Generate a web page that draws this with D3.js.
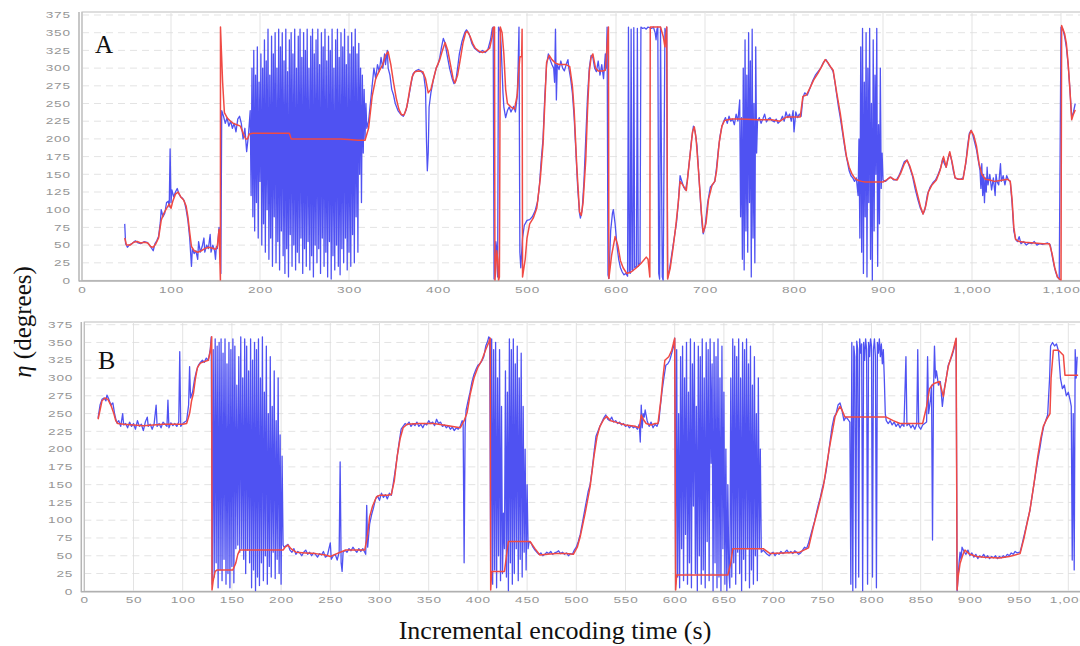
<!DOCTYPE html>
<html>
<head>
<meta charset="utf-8">
<script src="https://cdn.jsdelivr.net/npm/d3@7"></script>
<style>
  body { margin: 0; background: #fff; }
  svg { display: block; }
</style>
</head>
<body>
<div id="chart"></div>
<script>
// Tick values
const yTicks = [0, 25, 50, 75, 100, 125, 150, 175, 200, 225, 250, 275, 300, 325, 350, 375];
const xTicksA = [0, 100, 200, 300, 400, 500, 600, 700, 800, 900, 1000, 1100];
const xTicksB = [0, 50, 100, 150, 200, 250, 300, 350, 400, 450, 500, 550, 600, 650, 700, 750, 800, 850, 900, 950, 1000];

// Panel A: raw (blue) and filtered (red) orientation, [time, degrees]
const rawA = [
  [48,80],[49,52],[51,47],[53,50],[56,52],[60,56],[63,53],[66,52],[70,55],[73,54],[76,50],[78,46],[80,42],[82,52],[84,56],[86,62],[88,82],[89,100],[91,90],[93,95],[95,110],[97,112],[98,104],[99,186],[100,110],[101,128],[103,118],[105,125],[107,130],[109,122],[111,118],[113,116],[115,112],[117,100],[119,85],[121,60],[122,40],[123,20],[124,45],[126,38],[128,42],[130,30],[131,55],[133,40],[135,48],[137,60],[138,40],[140,50],[142,45],[144,65],[145,40],[147,50],[149,42],[150,30],[151,48],[152,45],[154,75],[155,60],[156,10],[157,240],[159,232],[161,222],[163,230],[165,218],[167,225],[169,215],[171,222],[173,210],[175,228],[177,232],[179,222],[181,200],[183,215],[185,182],[187,205],[189,240],
  [190,120],[191,300],[192,90],[193,325],[194,70],[195,290],[196,110],[197,330],[198,60],[199,280],[200,140],[201,320],[202,50],[203,300],[204,80],[205,340],[206,40],[207,310],[208,100],[209,355],[210,30],[211,290],[212,60],[213,345],[214,20],[215,320],[216,90],[217,350],[218,25],[219,300],[220,55],[221,355],[222,15],[223,330],[224,70],[225,350],[226,35],[227,310],[228,10],[229,355],[230,45],[231,295],[232,5],[233,340],[234,65],[235,350],[236,20],[237,320],[238,50],[239,355],[240,15],[241,300],[242,40],[243,345],[244,25],[245,355],[246,60],[247,315],[248,10],[249,350],[250,45],[251,325],[252,20],[253,355],[254,55],[255,300],[256,15],[257,345],[258,35],[259,355],[260,5],[261,320],[262,50],[263,340],[264,25],[265,355],[266,45],[267,305],[268,10],[269,350],[270,60],[271,330],[272,20],[273,355],[274,40],[275,310],[276,5],[277,345],[278,55],[279,325],[280,2],[281,355],[282,35],[283,300],[284,15],[285,340],[286,50],[287,355],[288,20],[289,315],[290,8],[291,350],[292,45],[293,330],[294,25],[295,355],[296,60],[297,305],[298,15],[299,345],[300,40],[301,320],[302,20],[303,350],[304,65],[305,330],[306,25],[307,355],[308,90],[309,320],[310,40],[311,335],[312,150],[313,300],[314,110],[315,290],[316,180],[317,270],[318,200],[319,250],[320,215],
  [322,225],[324,250],[326,275],[328,300],[330,285],[332,305],[334,295],[336,315],[338,300],[340,320],[341,305],[343,325],[344,300],[346,290],[347,280],[348,270],[350,262],[352,250],[355,240],[358,235],[361,232],[364,240],[367,258],[370,280],[372,292],[375,296],[378,298],[381,296],[384,290],[386,270],[387,200],[388,155],[389,180],[390,245],[392,265],[395,285],[398,300],[400,305],[402,315],[404,330],[406,342],[408,335],[410,320],[413,300],[416,285],[418,278],[420,282],[422,300],[424,320],[427,338],[430,350],[432,354],[435,348],[438,335],[441,328],[444,325],[447,322],[450,325],[453,322],[456,326],[459,340],[461,356],[462,358],[463,2],[465,55],[466,45],[467,5],[468,358],[470,352],[471,330],[473,265],[474,245],[476,230],[478,240],[480,245],[482,238],[485,246],[487,238],[489,260],[490,300],[491,358],[492,40],[493,18],[495,60],[497,78],[500,85],[503,86],[506,90],[509,98],[512,112],[514,135],[516,170],[518,200],[520,260],[522,305],[524,320],[526,312],[528,305],[530,300],[531,280],[532,355],[533,255],[534,305],[536,298],[538,310],[540,300],[542,296],[544,305],[546,312],[547,300],[549,285],[551,265],[553,230],[555,180],[557,130],[559,95],[560,88],[562,100],[564,140],[566,200],[568,260],[570,300],[572,318],[574,315],[576,300],[578,295],[580,310],[582,290],[584,305],[586,285],[588,320],[589,300],[590,358],[591,8],[592,3],[594,70],[596,95],[597,100],[599,80],[601,50],[603,30],[605,18],[607,12],[609,8],[611,10],[613,6],[614,358],[615,12],[616,10],[617,355],[618,15],[619,14],[620,357],[621,18],[623,20],[624,356],[625,20],[627,25],[628,358],[630,356],[632,357],[634,355],[636,358],[638,357],[640,356],[642,358],[644,350],[645,340],[646,355],[647,358],[648,10],[649,2],[650,358],[652,5],[653,0],[655,356],[656,345],[657,358],[658,4],
  [660,15],[663,40],[666,65],[668,82],[670,110],[672,148],[674,140],[676,132],[678,128],[680,140],[683,175],[685,200],[687,218],[689,210],[691,190],[693,150],[695,110],[697,75],[698,66],[700,75],[703,110],[706,132],[709,136],[711,140],[713,160],[715,185],[717,205],[719,218],[721,225],[723,230],[725,222],[727,232],[729,225],[731,228],[733,220],[735,235],[737,225],[739,255],[740,90],[741,230],[742,30],[743,300],[744,15],[745,340],[746,70],[747,290],[748,40],[749,350],[750,110],[751,310],[752,5],[753,355],[754,60],[755,250],[756,25],[757,330],[758,180],[759,225],[761,230],[763,222],[765,228],[767,235],[769,224],[771,228],[773,230],[775,226],[778,224],[780,228],[782,222],[785,226],[787,232],[789,225],[791,238],[793,230],[795,235],[797,225],[799,240],[800,210],[802,238],[804,230],[806,235],[808,232],[810,258],[812,265],[815,262],[818,272],[821,282],[824,290],[827,295],[830,300],[833,308],[836,312],[839,305],[842,300],[844,295],[846,280],[848,262],[850,245],[852,230],[855,205],[858,180],[860,168],[862,155],[864,148],[866,145],[868,140],[870,145],[872,120],[873,200],[874,60],[875,330],[876,40],[877,356],[878,10],[879,280],[880,90],[881,350],[882,5],[883,300],[884,110],[885,356],[886,30],[887,250],[888,0],[889,340],[890,70],[891,290],[892,150],[893,356],[894,20],[895,220],[896,80],[897,300],[898,130],[899,180],[900,142],[903,140],[906,144],[909,146],[912,142],[915,142],[918,148],[921,158],[924,168],[927,170],[930,160],[933,148],[936,130],[939,115],[942,102],[945,94],[947,100],[950,122],[953,132],[956,138],[959,142],[962,150],[965,160],[967,172],[969,165],[971,160],[973,172],[975,180],[977,170],[979,155],[981,145],[984,143],[987,143],[990,145],[993,165],[995,190],[997,208],[999,212],[1001,205],[1003,195],[1005,185],[1007,170],[1009,155],[1010,130],[1011,165],[1012,120],[1013,150],[1014,110],[1015,145],[1016,125],[1017,160],[1018,135],[1020,150],[1022,128],[1024,145],[1026,120],[1027,150],[1028,140],[1030,135],[1032,165],[1033,140],[1035,148],[1037,135],[1039,148],[1041,142],[1043,140],[1045,110],[1047,70],[1049,58],[1051,55],[1053,62],[1055,52],[1058,55],[1061,50],[1064,53],[1067,52],[1070,55],[1073,50],[1076,52],[1079,51],[1082,52],[1085,53],[1088,50],[1090,35],[1092,22],[1094,12],[1096,5],[1098,2],[1100,358],[1102,355],[1104,345],[1106,330],[1108,305],[1110,270],[1112,230],[1114,238],[1116,250]
];

const filtA = [
  [48,60],[50,50],[54,50],[58,54],[62,55],[66,53],[70,54],[74,53],[77,48],[80,47],[83,52],[86,60],[89,85],[92,95],[95,102],[98,108],[100,102],[102,112],[105,122],[108,125],[111,118],[114,114],[117,105],[119,90],[121,68],[123,48],[126,42],[130,40],[134,42],[138,45],[142,47],[146,46],[150,44],[152,48],[154,72],[155.5,0],[155.6,358],[158,280],[160,237],[163,230],[166,226],[170,222],[174,220],[178,218],[182,205],[184,200],[186,200],[188,207],[192,208],[200,208],[210,208],[220,208],[233,208],[235,200],[250,200],[270,200],[290,200],[300,199],[310,198],[318,198],
  [322,215],[326,260],[330,285],[334,296],[338,305],[341,318],[344,323],[347,305],[350,280],[353,258],[356,242],[359,234],[362,234],[365,245],[368,268],[371,288],[374,295],[378,296],[383,295],[386,285],[389,265],[392,270],[395,285],[398,300],[402,312],[405,325],[408,336],[411,325],[414,305],[417,285],[419,279],[422,290],[425,312],[428,335],[431,350],[433,352],[436,345],[439,335],[442,328],[446,324],[450,322],[454,324],[458,328],[461,345],[462,357],[463.5,358],[464,0],[465,20],[466,42],[467,30],[468,0],[469,5],[470,358],[472,350],[474,320],[476,270],[478,250],[482,245],[486,242],[489,262],[491,300],[492,316],[494,316],[494.5,355],[495,5],[498,30],[500,60],[503,80],[507,88],[511,102],[515,145],[518,192],[520,250],[522,308],[525,318],[528,312],[532,307],[536,305],[540,305],[544,305],[548,302],[551,275],[553,240],[556,160],[559,97],[561,92],[563,110],[566,170],[568,240],[570,295],[572,315],[574,320],[577,300],[580,296],[585,296],[588,297],[590,330],[591,352],[591.5,358],[592,3],[595,35],[599,62],[602,50],[605,28],[608,18],[612,10],[617,12],[623,18],[628,24],[634,33],[636,30],[638,5],[638.5,358],[640,358],[645,358],[650,358],[653,345],[655,330],[656,345],[657,358],[658,2],
  [661,18],[664,45],[667,75],[670,110],[672,140],[675,135],[679,127],[683,175],[686,210],[688,217],[690,200],[693,150],[696,95],[698,68],[701,80],[704,115],[708,135],[711,140],[713,155],[716,195],[719,218],[722,226],[726,227],[730,228],[740,228],[760,227],[775,227],[784,225],[792,231],[800,231],[807,231],[810,260],[814,262],[818,272],[822,283],[827,293],[831,302],[835,312],[838,308],[841,302],[844,297],[848,265],[852,236],[856,200],[859,175],[862,160],[865,151],[868,145],[871,142],[876,140],[880,139],[890,139],[900,139],[904,142],[908,146],[912,143],[916,142],[920,152],[924,165],[927,170],[930,162],[934,146],[938,125],[942,105],[945,94],[948,105],[951,125],[955,135],[960,142],[964,155],[968,175],[971,160],[973,172],[975,182],[978,165],[981,145],[985,143],[990,143],[994,175],[997,205],[999,212],[1002,205],[1005,190],[1008,165],[1011,150],[1015,143],[1020,142],[1025,140],[1030,141],[1035,142],[1040,143],[1043,140],[1045,115],[1047,75],[1049,58],[1053,55],[1060,54],[1070,53],[1080,52],[1087,52],[1090,38],[1093,18],[1096,5],[1099,1],[1100,0],[1100.7,360],[1104,349],[1106,335],[1108,307],[1110,270],[1112,227],[1114,235],[1116,241]
];

// Panel B
const rawB = [
  [14,244],[16,262],[18,270],[20,272],[22,268],[23,276],[25,270],[27,262],[29,265],[31,248],[33,237],[35,240],[37,232],[39,250],[40,234],[42,236],[44,230],[46,238],[48,232],[50,236],[52,228],[54,240],[56,232],[58,235],[60,226],[62,238],[64,245],[65,232],[67,235],[69,228],[71,236],[73,262],[74,232],[76,236],[78,230],[80,238],[82,235],[84,232],[85,269],[86,230],[88,237],[90,233],[92,236],[94,232],[96,238],[97,337],[98,232],[100,236],[102,238],[104,240],[106,262],[107,316],[108,272],[110,280],[112,298],[114,310],[116,318],[118,322],[120,325],[122,322],[124,328],[126,325],[128,340],[129,358],
  [130,10],[131,340],[132,20],[133,355],[134,40],[135,345],[136,5],[137,350],[138,30],[139,355],[140,15],[141,335],[142,45],[143,355],[144,10],[145,320],[146,25],[147,350],[148,5],[149,340],[150,35],[151,355],[152,12],[153,345],[154,60],[155,290],[156,65],[157,330],[158,55],[159,358],[160,60],[161,300],[162,45],[163,355],[164,25],[165,345],[166,58],[167,310],[168,40],[169,355],[170,5],[171,325],[172,30],[173,350],[174,0],[175,340],[176,20],[177,355],[178,8],[179,300],[180,40],[181,358],[182,15],[183,280],[184,50],[185,345],[186,10],[187,250],[188,35],[189,330],[190,20],[191,260],[192,55],[193,310],[194,18],[195,240],[196,45],[197,300],[198,25],[199,220],[200,10],[201,190],[202,65],[203,62],
  [205,64],[207,66],[209,58],[211,55],[213,60],[215,52],[217,56],[219,54],[221,50],[223,55],[225,58],[227,52],[229,55],[231,50],[233,54],[235,52],[237,48],[239,53],[241,51],[243,56],[245,48],[247,50],[249,62],[250,68],[251,45],[253,50],[255,52],[257,44],[259,55],[260,182],[261,40],[262,28],[263,55],[265,58],[267,55],[269,60],[271,57],[273,62],[275,58],[277,55],[279,60],[281,56],[283,60],[285,55],[286,52],[287,121],[288,62],[290,95],[292,108],[294,118],[296,130],[298,134],[300,128],[302,138],[304,132],[306,136],[308,130],[310,138],[312,135],[314,152],[316,170],[318,190],[320,210],[322,228],[324,232],[326,236],[328,234],[330,238],[332,232],[334,236],[336,233],[338,238],[340,232],[342,235],[344,230],[346,236],[348,234],[350,240],[352,236],[354,238],[356,233],[358,242],[360,236],[362,238],[364,232],[366,234],[368,230],[370,233],[372,228],[374,231],[376,226],[378,230],[380,228],[382,232],[384,240],[385,235],[386,40],[387,230],[388,255],[390,268],[392,280],[394,295],[396,305],[398,312],[400,318],[402,320],[404,324],[406,330],[408,345],[410,352],[411,358],[412,356],
  [413,20],[414,355],[415,10],[416,340],[417,30],[418,350],[419,5],[420,300],[421,50],[422,340],[423,15],[424,260],[425,25],[426,110],[427,60],[428,310],[429,20],[430,280],[431,0],[432,355],[433,40],[434,340],[435,10],[436,355],[437,25],[438,320],[439,60],[440,345],[441,15],[442,300],[443,45],[444,335],[445,20],[446,260],[447,55],[448,200],[449,30],[450,150],[451,60],[452,70],
  [454,68],[456,62],[458,58],[460,55],[462,52],[464,54],[466,50],[468,52],[470,55],[472,53],[474,56],[476,52],[478,54],[480,55],[482,57],[484,53],[486,55],[488,52],[490,54],[492,50],[494,53],[496,52],[498,58],[500,62],[502,70],[504,80],[506,95],[508,110],[510,125],[512,140],[514,150],[516,170],[518,195],[520,218],[522,225],[524,232],[526,238],[528,244],[530,248],[532,242],[534,240],[536,245],[538,238],[540,240],[542,236],[544,238],[546,234],[548,236],[550,232],[552,234],[554,230],[556,233],[558,230],[560,232],[562,228],[564,235],[565,210],[566,262],[567,230],[568,250],[569,245],[570,255],[572,240],[574,232],[576,238],[578,230],[580,235],[582,232],[584,240],[585,255],[587,280],[589,300],[591,318],[593,320],[595,325],[597,335],[599,345],[600,356],[601,10],
  [602,340],[603,20],[604,250],[605,5],[606,330],[607,60],[608,345],[609,15],[610,300],[611,80],[612,350],[613,10],[614,280],[615,40],[616,355],[617,5],[618,320],[619,120],[620,350],[621,25],[622,260],[623,0],[624,345],[625,50],[626,330],[627,10],[628,355],[629,30],[630,300],[631,5],[632,350],[633,70],[634,340],[635,15],[636,355],[637,180],[638,320],[639,0],[640,350],[641,40],[642,330],[643,5],[644,355],[645,20],[646,300],[647,0],[648,345],[649,60],[650,280],[651,10],[652,200],[653,0],[654,150],[655,30],[656,5],[657,300],[658,20],[659,355],[660,40],[661,345],[662,10],[663,330],[664,55],[665,355],[666,25],[667,300],[668,0],[669,350],[670,45],[671,340],[672,15],[673,355],[674,60],[675,320],[676,5],[677,345],[678,30],[679,290],[680,10],[681,330],[682,50],[683,250],[684,15],[685,300],[686,60],[687,200],[688,55],
  [690,58],[692,55],[694,52],[696,50],[698,53],[700,55],[702,50],[704,54],[706,52],[708,56],[710,53],[712,55],[714,58],[716,54],[718,56],[720,53],[722,57],[724,55],[726,52],[728,54],[730,58],[732,62],[734,60],[736,68],[738,78],[740,88],[742,98],[744,110],[746,122],[748,132],[750,145],[752,155],[754,170],[756,190],[758,212],[760,232],[762,245],[764,250],[766,262],[768,265],[770,255],[772,240],[774,245],[776,242],[778,238],
  [779,10],[780,350],[781,0],[782,345],[783,330],[784,5],[785,352],[786,340],[787,20],[788,355],[789,335],[790,348],[791,0],[792,350],[793,325],[794,355],[795,340],[796,10],[797,350],[798,330],[799,355],[800,345],[801,20],[802,340],[803,355],[804,330],[805,5],[806,350],[807,335],[808,355],[809,330],[810,348],[811,320],[812,340],[813,300],[814,250],[815,240],
  [817,236],[819,240],[821,234],[823,238],[825,232],[827,236],[829,230],[831,235],[833,232],[835,330],[836,233],[838,236],[840,230],[842,234],[844,228],[846,235],[847,340],[848,232],[850,228],[852,234],[854,236],[856,238],[857,330],[858,250],[860,270],[861,290],[862,72],[863,280],[864,345],[865,300],[866,310],[868,290],[870,295],[872,260],[874,285],[876,300],[878,318],[880,325],[882,332],[884,342],[886,355],[887,0],
  [888,20],[889,40],[890,55],[891,45],[892,62],[894,56],[896,52],[898,58],[900,50],[902,54],[904,48],[906,52],[908,46],[910,50],[912,48],[914,52],[916,47],[918,50],[920,46],[922,49],[924,47],[926,50],[928,46],[930,49],[932,47],[934,50],[936,48],[938,52],[940,50],[942,54],[944,52],[946,56],[948,54],[951,55],[953,66],[955,78],[957,90],[959,102],[961,114],[963,132],[965,150],[967,168],[969,185],[971,200],[973,218],[975,232],[977,240],[979,248],[981,300],[982,345],[984,350],[986,345],[988,348],[990,338],[992,300],[994,285],[996,290],[998,275],[1000,280],[1002,268],[1003,260],[1004,44],[1005,250],[1006,30],[1007,340],[1008,300],[1009,330]
];

const filtB = [
  [14,242],[16,255],[18,268],[21,272],[24,270],[27,262],[30,250],[32,240],[34,236],[40,235],[50,234],[60,233],[70,234],[80,235],[90,235],[100,235],[104,236],[107,250],[109,268],[111,279],[113,300],[115,315],[118,321],[122,323],[126,325],[128,337],[129.5,358],[129.8,2],[131,15],[133,28],[135,30],[145,30],[151,30],[154,40],[156,52],[158,58],[170,58],[190,58],[202,58],[204,62],[207,65],[210,60],[215,55],[225,54],[235,53],[245,51],[250,49],[255,52],[260,55],[266,58],[275,58],[285,58],[288,80],[290,105],[293,120],[297,133],[300,135],[308,135],[312,136],[315,155],[318,190],[321,215],[324,230],[328,235],[340,236],[355,236],[370,233],[382,230],[386,240],[389,251],[392,276],[396,300],[400,315],[404,325],[408,340],[411,350],[412.5,356],[413,2],[414,28],[427,28],[429,50],[431,70],[445,70],[453,70],[458,60],[463,51],[470,52],[480,53],[490,53],[497,52],[501,62],[504,77],[509,110],[514,147],[518,190],[521,217],[524,232],[528,242],[531,246],[535,240],[540,238],[550,234],[560,232],[564,230],[566,248],[568,242],[571,236],[576,234],[580,236],[583,236],[586,270],[588,300],[590,325],[594,330],[597,339],[600,356],[601,2],[602,23],[620,23],[640,23],[654,23],[657,40],[659,60],[670,60],[690,60],[697,53],[710,54],[727,55],[736,61],[741,91],[746,118],[751,147],[757,200],[763,246],[766,255],[768,260],[770,255],[773,245],[790,245],[815,245],[822,240],[829,236],[840,236],[852,236],[856,260],[859,285],[863,292],[869,295],[871,285],[873,274],[876,300],[878,316],[883,339],[886,356],[887,2],[888,20],[890,39],[893,52],[895,58],[900,52],[907,49],[915,48],[930,47],[940,49],[951,53],[955,75],[958,95],[961,114],[965,150],[969,190],[972,215],[974.6,232],[978,242],[981.4,250],[982.5,300],[984.8,339],[990,339],[995,332],[996.6,304],[1010,304]
];

const W = 1080, H = 646;
const blue = "#4f52f2", red = "#f04a44";

const svg = d3.select("#chart").append("svg")
  .attr("width", W).attr("height", H)
  .style("font-family", "'DejaVu Sans', sans-serif");

const panels = [
  { name: "A", raw: rawA, filt: filtA, ticks: xTicksA, xMax: 1100, x0: 82, x1: 1061, top: 12, y375: 15, y0: 280.5, labelX: 95, labelY: 53, labelSize: 25 },
  { name: "B", raw: rawB, filt: filtB, ticks: xTicksB, xMax: 1000, x0: 84.3, x1: 1068.3, top: 322, y375: 324.7, y0: 591.3, labelX: 98, labelY: 369, labelSize: 26 }
];

function styleTicks(sel) {
  sel.selectAll(".tick text")
    .attr("fill", "#959595")
    .style("font-size", "8.5px")
    .style("letter-spacing", "0.5px");
}

panels.forEach((p, i) => {
  const x = d3.scaleLinear().domain([0, p.xMax]).range([p.x0, p.x1]);
  const y = d3.scaleLinear().domain([0, 375]).range([p.y0, p.y375]);
  const g = svg.append("g");

  // plot frame
  g.append("rect")
    .attr("x", p.x0).attr("y", p.top)
    .attr("width", W - p.x0 + 10).attr("height", p.y0 - p.top)
    .attr("fill", "#fff").attr("stroke", "#c9c9c9").attr("stroke-width", 1.2);

  // vertical gridlines
  g.selectAll(".vgrid")
    .data(p.ticks.filter(d => d > 0))
    .join("line")
    .attr("x1", d => x(d)).attr("x2", d => x(d))
    .attr("y1", p.top).attr("y2", p.y0)
    .attr("stroke", "#e3e3e3").attr("stroke-width", 1);

  // horizontal gridlines
  g.selectAll(".hgrid")
    .data(yTicks.filter(d => d > 0))
    .join("line")
    .attr("x1", p.x0).attr("x2", W)
    .attr("y1", d => y(d)).attr("y2", d => y(d))
    .attr("stroke", "#dcdcdc").attr("stroke-width", 0.8)
    .attr("stroke-dasharray", "7,5");

  // axis lines
  g.append("line")
    .attr("x1", p.x0 - 3).attr("x2", p.x0 - 3)
    .attr("y1", p.top).attr("y2", p.y0 + 1)
    .attr("stroke", "#b5b5b5").attr("stroke-width", 1.5);
  g.append("line")
    .attr("x1", p.x0).attr("x2", p.x0)
    .attr("y1", p.top).attr("y2", p.y0)
    .attr("stroke", "#bdbdbd").attr("stroke-width", 1);
  g.append("line")
    .attr("x1", p.x0 - 3).attr("x2", W)
    .attr("y1", p.y0 + 0.5).attr("y2", p.y0 + 0.5)
    .attr("stroke", "#b0b0b0").attr("stroke-width", 1.5);

  // tick labels
  const yAxis = g.append("g")
    .attr("transform", `translate(${p.x0},0)`)
    .call(d3.axisLeft(y).tickValues(yTicks).tickSize(0).tickPadding(10));
  yAxis.select(".domain").remove();
  styleTicks(yAxis);
  yAxis.selectAll(".tick text").attr("x", -7).attr("transform", "scale(1.6,1)");

  const xAxis = g.append("g")
    .attr("transform", `translate(0,${p.y0})`)
    .call(d3.axisBottom(x).tickValues(p.ticks).tickFormat(d3.format(",")).tickSize(0).tickPadding(6));
  xAxis.select(".domain").remove();
  styleTicks(xAxis);
  xAxis.selectAll(".tick text").attr("transform", "scale(1.6,1)");

  // clip
  svg.append("clipPath").attr("id", "clip" + i)
    .append("rect")
    .attr("x", p.x0 + 0.5).attr("y", p.top)
    .attr("width", W - p.x0).attr("height", p.y0 - p.top);

  const line = d3.line().x(d => x(d[0])).y(d => y(d[1]));

  g.append("path")
    .datum(p.raw)
    .attr("clip-path", `url(#clip${i})`)
    .attr("fill", "none")
    .attr("stroke", blue)
    .attr("stroke-width", 1.3)
    .attr("stroke-linejoin", "round")
    .attr("d", line);

  g.append("path")
    .datum(p.filt)
    .attr("clip-path", `url(#clip${i})`)
    .attr("fill", "none")
    .attr("stroke", red)
    .attr("stroke-width", 1.5)
    .attr("stroke-linejoin", "round")
    .attr("d", line);

  // panel letter
  g.append("text")
    .attr("x", p.labelX).attr("y", p.labelY)
    .style("font-family", "'Liberation Serif', 'Times New Roman', serif")
    .style("font-size", p.labelSize + "px")
    .attr("fill", "#111")
    .text(p.name);
});

// y axis title
const yt = svg.append("text")
  .attr("transform", "translate(31,322) rotate(-90)")
  .attr("text-anchor", "middle")
  .style("font-family", "'Liberation Serif', 'Times New Roman', serif")
  .style("font-size", "25px")
  .attr("fill", "#111");
yt.append("tspan").style("font-style", "italic").text("η");
yt.append("tspan").text(" (degrees)");

// x axis title
svg.append("text")
  .attr("x", 555).attr("y", 639)
  .attr("text-anchor", "middle")
  .style("font-family", "'Liberation Serif', 'Times New Roman', serif")
  .style("font-size", "26px")
  .attr("fill", "#111")
  .text("Incremental encoding time (s)");
</script>
</body>
</html>
